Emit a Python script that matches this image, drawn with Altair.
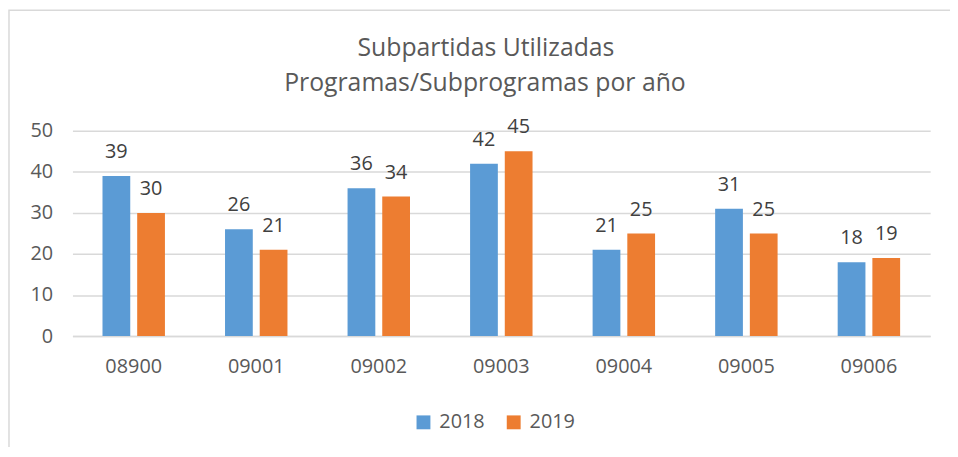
import altair as alt
import pandas as pd

categories = ["08900", "09001", "09002", "09003", "09004", "09005", "09006"]
values_2018 = [39, 26, 36, 42, 21, 31, 18]
values_2019 = [30, 21, 34, 45, 25, 25, 19]
years = ["2018", "2019"]
y_ticks = [0, 10, 20, 30, 40, 50]
title_lines = ["Subpartidas Utilizadas", "Programas/Subprogramas por año"]

rows = []
for c, a, b in zip(categories, values_2018, values_2019):
    rows.append({"cat": c, "year": years[0], "value": a})
    rows.append({"cat": c, "year": years[1], "value": b})
df = pd.DataFrame(rows)

FONT = "Open Sans"
W, H = 865, 207

base = alt.Chart(df).encode(
    x=alt.X("cat:N", sort=categories,
            scale=alt.Scale(paddingInner=0, paddingOuter=0),
            axis=alt.Axis(title=None, labelAngle=0, ticks=False, domain=True,
                          domainColor="#D9D9D9", domainWidth=1.5,
                          labelFontSize=20, labelColor="#595959", labelFont=FONT,
                          labelPadding=21, grid=False)),
    xOffset=alt.XOffset("year:N", scale=alt.Scale(paddingInner=0.2, paddingOuter=0.866)),
    y=alt.Y("value:Q", scale=alt.Scale(domain=[0, 50]),
            axis=alt.Axis(title=None, values=y_ticks, ticks=False, domain=False,
                          gridColor="#D9D9D9", gridWidth=1.5,
                          labelFontSize=20, labelColor="#595959", labelFont=FONT,
                          labelPadding=20)),
)

bars = base.mark_bar().encode(
    color=alt.Color("year:N",
                    scale=alt.Scale(domain=years, range=["#5B9BD5", "#ED7D31"]),
                    legend=alt.Legend(title=None, orient="none", legendX=344, legendY=284,
                                      direction="horizontal", symbolType="square",
                                      symbolSize=196, symbolStrokeWidth=0,
                                      labelFontSize=20, labelFont=FONT, labelColor="#595959",
                                      labelOffset=6, columnPadding=19, padding=0))
)

labels = base.mark_text(baseline="bottom", dy=-14, fontSize=20, font=FONT,
                        color="#404040").encode(text="value:Q")

meta = alt.Chart(alt.Data(values=[{"a": 1}]))

frame = meta.mark_rect(
    fill=None, stroke="#D9D9D9", strokeWidth=1.5
).encode(x=alt.value(-64), x2=alt.value(W + 200), y=alt.value(-121.5), y2=alt.value(H + 300))

title1 = meta.mark_text(
    fontSize=25, font=FONT, color="#595959", baseline="middle", align="center",
    text=title_lines[0]
).encode(x=alt.value(417), y=alt.value(-83))

title2 = meta.mark_text(
    fontSize=25, font=FONT, color="#595959", baseline="middle", align="center",
    text=title_lines[1]
).encode(x=alt.value(416), y=alt.value(-48))

chart = alt.layer(frame, bars, labels, title1, title2).properties(
    width=W, height=H,
    padding={"left": 65, "top": 122, "right": 20, "bottom": 110},
    autosize=alt.AutoSizeParams(type="none"),
    background="white",
).configure_view(stroke=None)

chart.save("out.html", embed_options={"renderer": "svg", "actions": False})
